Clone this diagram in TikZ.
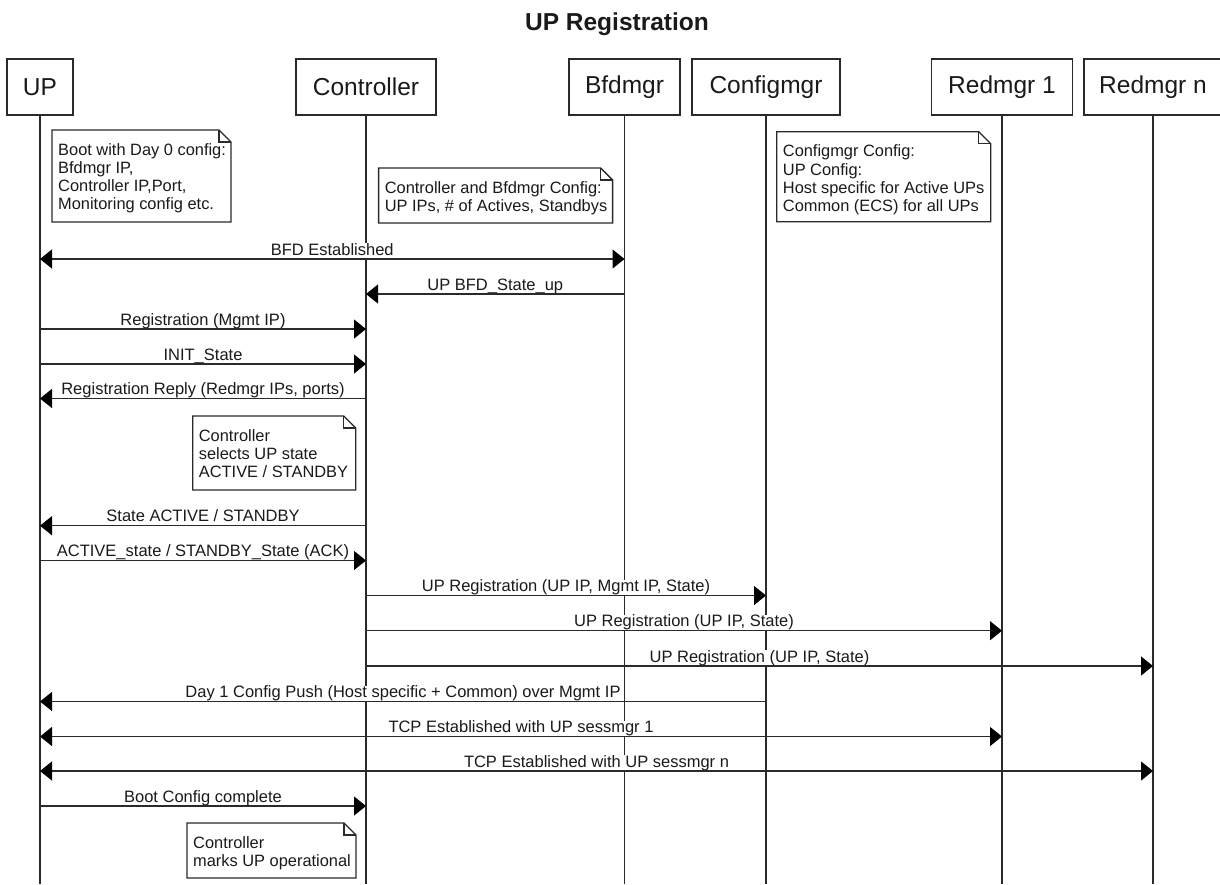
\documentclass[tikz,border=0pt]{standalone}
\usepackage{fontspec}
\setmainfont{Liberation Sans}
\usetikzlibrary{arrows.meta,calc}
\definecolor{ln}{HTML}{2A2A2A}
\definecolor{tx}{HTML}{1A1A1A}
\tikzset{
  >={Triangle[length=12pt,width=19pt,color=black]},
  part/.style={draw=ln, line width=1.4pt, fill=white, minimum height=56pt, inner sep=0pt,
    font=\fontsize{24.5}{28}\selectfont, text=tx},
  life/.style={draw=ln, line width=1.3pt},
  msg/.style={draw=ln, line width=1.3pt},
  lbl/.style={fill=white, inner sep=0pt, anchor=south, font=\fontsize{16.5}{19}\selectfont,
    text=tx, text height=12pt, text depth=3.8pt},
  notebox/.style={draw=ln, line width=1.3pt, fill=white, line join=miter},
  notetxt/.style={anchor=north west, inner sep=0pt, align=left,
    font=\fontsize{16.4}{18.3}\selectfont, text=tx},
  ttl/.style={font=\fontsize{24.5}{28}\selectfont\bfseries, text=tx, inner sep=0pt},
}
\newcommand\drawnote[6]{%
  \draw[notebox] (#2,#3) -- ({#4-12},#3) -- (#4,{#3+12}) -- (#4,#5) -- (#2,#5) -- cycle;
  \draw[notebox, fill=none] ({#4-12},#3) -- ({#4-12},{#3+12}) -- (#4,{#3+12});
  \node[notetxt] (#1) at ({#2+6},{#3+13}) {#6};
}
\begin{document}
\begin{tikzpicture}[x=1pt,y=-1pt]
\useasboundingbox (0,0) rectangle (1220,884);
\fill[white] (0,0) rectangle (1220,884);

\node[ttl] (title) at (617,24) {UP Registration};

% participants
\node[part, minimum width=66pt]  (UP)   at (40,87)    {UP};
\node[part, minimum width=140pt] (Ctrl) at (366,87)   {Controller};
\node[part, minimum width=111pt] (Bfd)  at (624.5,87) {Bfdmgr};
\node[part, minimum width=148pt] (Cfg)  at (766,87)   {Configmgr};
\node[part, minimum width=141pt] (R1)   at (1002,87)  {Redmgr 1};
\node[part, minimum width=138pt] (Rn)   at (1153,87)  {Redmgr n};

\coordinate (bot) at (0,884);
\foreach \p in {UP,Ctrl,Bfd,Cfg,R1,Rn}{
  \draw[life] (\p.south) -- (\p.south |- bot);
}

% notes
\drawnote{n1}{52}{130}{231}{222}{Boot with Day 0 config:\\Bfdmgr IP,\\Controller IP,Port,\\Monitoring config etc.}
\drawnote{n2}{378.6}{168}{612.6}{223}{Controller and Bfdmgr Config:\\UP IPs, \# of Actives, Standbys}
\drawnote{n3}{776.7}{131.7}{990.7}{221.7}{Configmgr Config:\\UP Config:\\Host specific for Active UPs\\Common (ECS) for all UPs}
\drawnote{n4}{192.7}{416}{355.7}{490}{Controller\\selects UP state\\ACTIVE / STANDBY}
\drawnote{n5}{187}{823}{356}{878}{Controller\\marks UP operational}

% message rows
\coordinate (y1) at (0,259);
\coordinate (y2) at (0,294);
\coordinate (y3) at (0,329);
\coordinate (y4) at (0,364);
\coordinate (y5) at (0,398.5);
\coordinate (y6) at (0,525.7);
\coordinate (y7) at (0,560.5);
\coordinate (y8) at (0,595.5);
\coordinate (y9) at (0,630.7);
\coordinate (y10) at (0,666);
\coordinate (y11) at (0,701.5);
\coordinate (y12) at (0,736.5);
\coordinate (y13) at (0,771);
\coordinate (y14) at (0,806);

% labels
\node[lbl] (l1)  at ($(UP |- y1)!0.5!(Bfd |- y1)$)   {BFD Established};
\node[lbl] (l2)  at ($(Ctrl |- y2)!0.5!(Bfd |- y2)$) {UP BFD\_State\_up};
\node[lbl] (l3)  at ($(UP |- y3)!0.5!(Ctrl |- y3)$)  {Registration (Mgmt IP)};
\node[lbl] (l4)  at ($(UP |- y4)!0.5!(Ctrl |- y4)$)  {INIT\_State};
\node[lbl] (l5)  at ($(UP |- y5)!0.5!(Ctrl |- y5)$)  {Registration Reply (Redmgr IPs, ports)};
\node[lbl] (l6)  at ($(UP |- y6)!0.5!(Ctrl |- y6)$)  {State ACTIVE / STANDBY};
\node[lbl] (l7)  at ($(UP |- y7)!0.5!(Ctrl |- y7)$)  {ACTIVE\_state / STANDBY\_State (ACK)};
\node[lbl] (l8)  at ($(Ctrl |- y8)!0.5!(Cfg |- y8)$) {UP Registration (UP IP, Mgmt IP, State)};
\node[lbl] (l9)  at ($(Ctrl |- y9)!0.5!(R1 |- y9)$)  {UP Registration (UP IP, State)};
\node[lbl] (l10) at ($(Ctrl |- y10)!0.5!(Rn |- y10)$) {UP Registration (UP IP, State)};
\node[lbl] (l11) at ($(UP |- y11)!0.5!(Cfg |- y11)$) {Day 1 Config Push (Host specific + Common) over Mgmt IP};
\node[lbl] (l12) at ($(UP |- y12)!0.5!(R1 |- y12)$)  {TCP Established with UP sessmgr 1};
\node[lbl] (l13) at ($(UP |- y13)!0.5!(Rn |- y13)$)  {TCP Established with UP sessmgr n};
\node[lbl] (l14) at ($(UP |- y14)!0.5!(Ctrl |- y14)$) {Boot Config complete};

% arrows
\draw[msg,<->] (UP |- y1) -- (Bfd |- y1);
\draw[msg,->]  (Bfd |- y2) -- (Ctrl |- y2);
\draw[msg,->]  (UP |- y3) -- (Ctrl |- y3);
\draw[msg,->]  (UP |- y4) -- (Ctrl |- y4);
\draw[msg,->]  (Ctrl |- y5) -- (UP |- y5);
\draw[msg,->]  (Ctrl |- y6) -- (UP |- y6);
\draw[msg,->]  (UP |- y7) -- (Ctrl |- y7);
\draw[msg,->]  (Ctrl |- y8) -- (Cfg |- y8);
\draw[msg,->]  (Ctrl |- y9) -- (R1 |- y9);
\draw[msg,->]  (Ctrl |- y10) -- (Rn |- y10);
\draw[msg,->]  (Cfg |- y11) -- (UP |- y11);
\draw[msg,<->] (UP |- y12) -- (R1 |- y12);
\draw[msg,<->] (UP |- y13) -- (Rn |- y13);
\draw[msg,->]  (UP |- y14) -- (Ctrl |- y14);
\end{tikzpicture}
\end{document}
